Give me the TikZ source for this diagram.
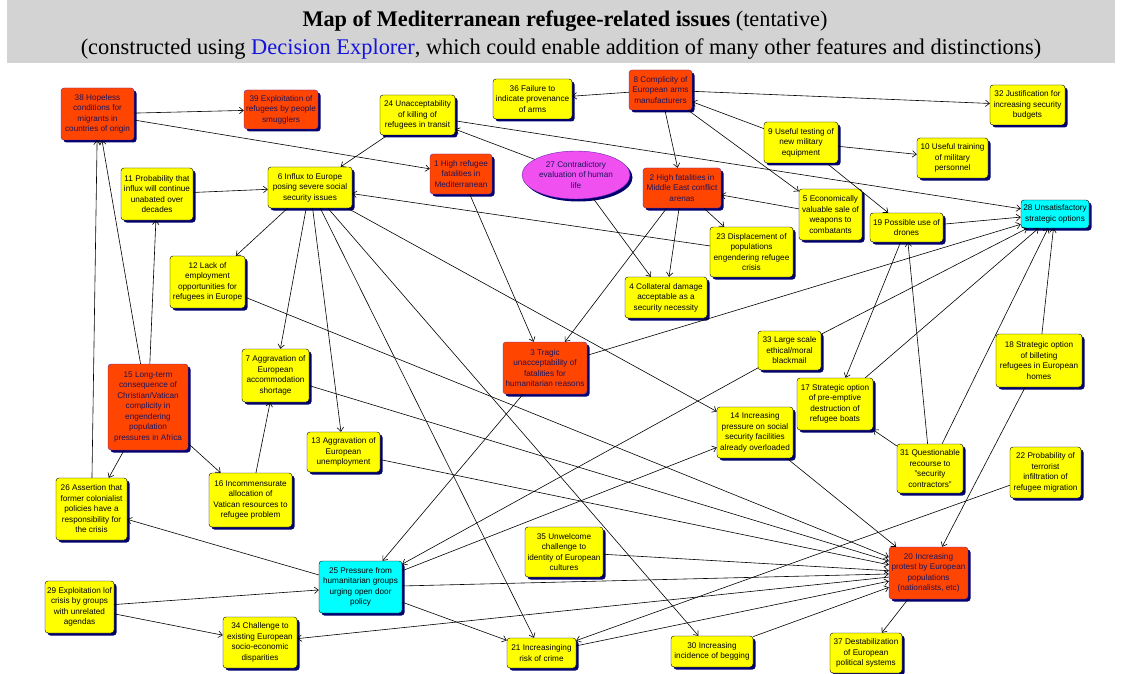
\documentclass[tikz,border=0pt]{standalone}
\usepackage{fontspec}
\setmainfont{Liberation Serif}
\setsansfont{Liberation Sans}
\usetikzlibrary{arrows.meta, shapes.geometric, shadows}
\usetikzlibrary{positioning}

\definecolor{boxyellow}{RGB}{255,255,0}
\definecolor{boxred}{RGB}{255,69,0}
\definecolor{boxcyan}{RGB}{0,255,255}
\definecolor{boxpink}{RGB}{240,80,240}
\definecolor{shade}{RGB}{0,0,110}
\definecolor{redrim}{RGB}{100,40,170}
\definecolor{redtext}{RGB}{30,20,90}
\definecolor{band}{RGB}{211,211,211}
\definecolor{delink}{RGB}{20,20,220}

\begin{document}
\begin{tikzpicture}[x=1pt, y=-1pt,
    issue/.style={draw=black, rounded corners=3pt, fill=boxyellow, align=center, inner sep=1pt,
      font=\sffamily\fontsize{8.2}{10.5}\selectfont,
      drop shadow={shadow xshift=2.5pt, shadow yshift=-2.5pt, fill=shade, opacity=1}},
    hot/.style={issue, fill=boxred, draw=redrim, text=redtext},
    option/.style={issue, fill=boxcyan},
    link/.style={line width=0.6pt, -{Straight Barb[length=4pt,width=6.5pt]}}]
    \useasboundingbox (0,0) rectangle (1122,674);
    \fill[band] (7,0) rectangle (1115,63);
    \node[anchor=base, font=\fontsize{22.3}{24}\selectfont, inner sep=0pt] at (565,27) (title)
      {\textbf{Map of Mediterranean refugee-related issues} (tentative)};
    \node[anchor=base, font=\fontsize{22.4}{24}\selectfont, inner sep=0pt] at (561,55) (subtitle)
      {(constructed using \textcolor{delink}{Decision Explorer}, which could enable addition of many other features and distinctions)};

    \node[hot, minimum width=73pt, minimum height=52pt] at (97.5,114) (n38) {38 Hopeless\\conditions for\\migrants in\\countries of origin};
    \node[hot, minimum width=74pt, minimum height=39pt] at (281,109.5) (n39) {39 Exploitation of\\refugees by people\\smugglers};
    \node[issue, minimum width=75pt, minimum height=40pt] at (417.5,115) (n24) {24 Unacceptability\\of killing of\\refugees in transit};
    \node[issue, minimum width=79pt, minimum height=40pt] at (532.5,99) (n36) {36 Failure to\\indicate provenance\\of arms};
    \node[hot, minimum width=63pt, minimum height=40pt] at (660.5,90) (n8) {8 Complicity of\\European arms\\manufacturers};
    \node[issue, minimum width=75pt, minimum height=40pt] at (1027.5,105) (n32) {32 Justification for\\increasing security\\budgets};
    \node[issue, minimum width=74pt, minimum height=41pt] at (801,142.5) (n9) {9 Useful testing of\\new military\\equipment};
    \node[issue, minimum width=71pt, minimum height=40pt] at (952.5,158) (n10) {10 Useful training\\of military\\personnel};
    \node[issue, minimum width=72pt, minimum height=52pt] at (157,194) (n11) {11 Probability that\\influx will continue\\unabated over\\decades};
    \node[issue, minimum width=84pt, minimum height=41pt] at (310,187.5) (n6) {6 Influx to Europe\\posing severe social\\security issues};
    \node[hot, minimum width=62pt, minimum height=40pt] at (461,174) (n1) {1 High refugee\\fatalities in\\Mediterranean};
    \node[issue, ellipse, fill=boxpink, draw=redrim, text=redtext, minimum width=108pt, minimum height=48pt, inner sep=0pt] at (576,175) (n27) {27 Contradictory\\evaluation of human\\life};
    \node[hot, minimum width=78pt, minimum height=40pt] at (682,188) (n2) {2 High fatalities in\\Middle East conflict\\arenas};
    \node[issue, minimum width=63pt, minimum height=51pt] at (830.5,214.5) (n5) {5 Economically\\valuable sale of\\weapons to\\combatants};
    \node[issue, minimum width=73pt, minimum height=29pt] at (906.5,227.5) (n19) {19 Possible use of\\drones};
    \node[option, minimum width=68pt, minimum height=28pt] at (1055,214) (n28) {28 Unsatisfactory\\strategic options};
    \node[issue, minimum width=83pt, minimum height=50pt] at (751.5,252) (n23) {23 Displacement of\\populations\\engendering refugee\\crisis};
    \node[issue, minimum width=75pt, minimum height=52pt] at (207.5,282) (n12) {12 Lack of\\employment\\opportunities for\\refugees in Europe};
    \node[issue, minimum width=82pt, minimum height=41pt] at (666,297.5) (n4) {4 Collateral damage\\acceptable as a\\security necessity};
    \node[hot, minimum width=84pt, minimum height=52pt] at (545,368) (n3) {3 Tragic\\unacceptability of\\fatalities for\\humanitarian reasons};
    \node[issue, minimum width=63pt, minimum height=39pt] at (789.5,350.5) (n33) {33 Large scale\\ethical/moral\\blackmail};
    \node[issue, minimum width=86pt, minimum height=53pt] at (1039,360.5) (n18) {18 Strategic option\\of billeting\\refugees in European\\homes};
    \node[issue, minimum width=67pt, minimum height=53pt] at (275.5,375.5) (n7) {7 Aggravation of\\European\\accommodation\\shortage};
    \node[hot, minimum width=80pt, minimum height=86pt] at (148,407) (n15) {15 Long-term\\consequence of\\Christian/Vatican\\complicity in\\engendering\\population\\pressures in Africa};
    \node[issue, minimum width=76pt, minimum height=52pt] at (835,404) (n17) {17 Strategic option\\of pre-emptive\\destruction of\\refugee boats};
    \node[issue, minimum width=76pt, minimum height=51pt] at (755,432.5) (n14) {14 Increasing\\pressure on social\\security facilities\\already overloaded};
    \node[issue, minimum width=73pt, minimum height=40pt] at (343.5,452) (n13) {13 Aggravation of\\European\\unemployment};
    \node[issue, minimum width=66pt, minimum height=49pt] at (930,468.5) (n31) {31 Questionable\\recourse to\\"security\\contractors"};
    \node[issue, minimum width=71pt, minimum height=51pt] at (1045.5,472.5) (n22) {22 Probability of\\terrorist\\infiltration of\\refugee migration};
    \node[issue, minimum width=71pt, minimum height=62pt] at (91.5,509) (n26) {26 Assertion that\\former colonialist\\policies have a\\responsibility for\\the crisis};
    \node[issue, minimum width=83pt, minimum height=54pt] at (250.5,500) (n16) {16 Incommensurate\\allocation of\\Vatican resources to\\refugee problem};
    \node[issue, minimum width=78pt, minimum height=50pt] at (564,552) (n35) {35 Unwelcome\\challenge to\\identity of European\\cultures};
    \node[option, minimum width=83pt, minimum height=52pt] at (360.5,587) (n25) {25 Pressure from\\humanitarian groups\\urging open door\\policy};
    \node[hot, minimum width=79pt, minimum height=52pt] at (928.5,573) (n20) {20 Increasing\\protest by European\\populations\\(nationalists, etc)};
    \node[issue, minimum width=69pt, minimum height=52pt] at (79.5,607) (n29) {29 Exploitation lof\\crisis by groups\\with unrelated\\agendas};
    \node[issue, minimum width=74pt, minimum height=51pt] at (260,642.5) (n34) {34 Challenge to\\existing European\\socio-economic\\disparities};
    \node[issue, minimum width=69pt, minimum height=30pt] at (541.5,653) (n21) {21 Increasinging\\risk of crime};
    \node[issue, minimum width=82pt, minimum height=31pt] at (712,651.5) (n30) {30 Increasing\\incidence of begging};
    \node[issue, minimum width=72pt, minimum height=40pt] at (866,653) (n37) {37 Destabilization\\of European\\political systems};

    \draw[link] (n38) -- (n39);
    \draw[link] (n38) -- (n1);
    \draw[link] (n11) -- (n6);
    \draw[link] (n15) -- (n38);
    \draw[link] (n15) -- (n11);
    \draw[link] (n26) -- (n38);
    \draw[link] (n15) -- (n26);
    \draw[link] (n15) -- (n16);
    \draw[link] (n16) -- (n7);
    \draw[link] (n25) -- (n26);
    \draw[link] (n29) -- (n25);
    \draw[link] (n29) -- (n34);
    \draw[link] (n20) -- (n34);
    \draw[link] (n25) -- (n21);
    \draw[link] (n25) -- (n20);
    \draw[link] (n25) -- (n14);
    \draw[link] (n33) -- (n25);
    \draw[link] (n3) -- (n25);
    \draw[link] (n6) -- (n12);
    \draw[link] (n6) -- (n7);
    \draw[link] (n6) -- (n13);
    \draw[link] (n6) -- (n21);
    \draw[link] (n6) -- (n30);
    \draw[link] (n6) -- (n14);
    \draw[link] (n12) -- (n20);
    \draw[link] (n7) -- (n20);
    \draw[link] (n13) -- (n20);
    \draw[link] (n35) -- (n20);
    \draw[link] (n21) -- (n20);
    \draw[link] (n30) -- (n20);
    \draw[link] (n14) -- (n20);
    \draw[link] (n18) -- (n20);
    \draw[link] (n22) -- (n21);
    \draw[link] (n20) -- (n37);
    \draw[link] (n24) -- (n6);
    \draw[link] (n27) -- (n24);
    \draw[link] (n24) -- (n28);
    \draw[link] (n1) -- (n3);
    \draw[link] (n2) -- (n3);
    \draw[link] (n2) -- (n4);
    \draw[link] (n27) -- (n4);
    \draw[link] (n2) -- (n23);
    \draw[link] (n23) -- (n6);
    \draw[link] (n8) -- (n36);
    \draw[link] (n8) -- (n32);
    \draw[link] (n8) -- (n2);
    \draw[link] (n8) -- (n5);
    \draw[link] (n9) -- (n8);
    \draw[link] (n9) -- (n10);
    \draw[link] (n9) -- (n19);
    \draw[link] (n5) -- (n2);
    \draw[link] (n19) -- (n28);
    \draw[link] (n19) -- (n17);
    \draw[link] (n31) -- (n19);
    \draw[link] (n31) -- (n17);
    \draw[link] (n31) -- (n28);
    \draw[link] (n18) -- (n28);
    \draw[link] (n17) -- (n28);
    \draw[link] (n33) -- (n28);
    \draw[link] (n3) -- (n28);
\end{tikzpicture}
\end{document}
